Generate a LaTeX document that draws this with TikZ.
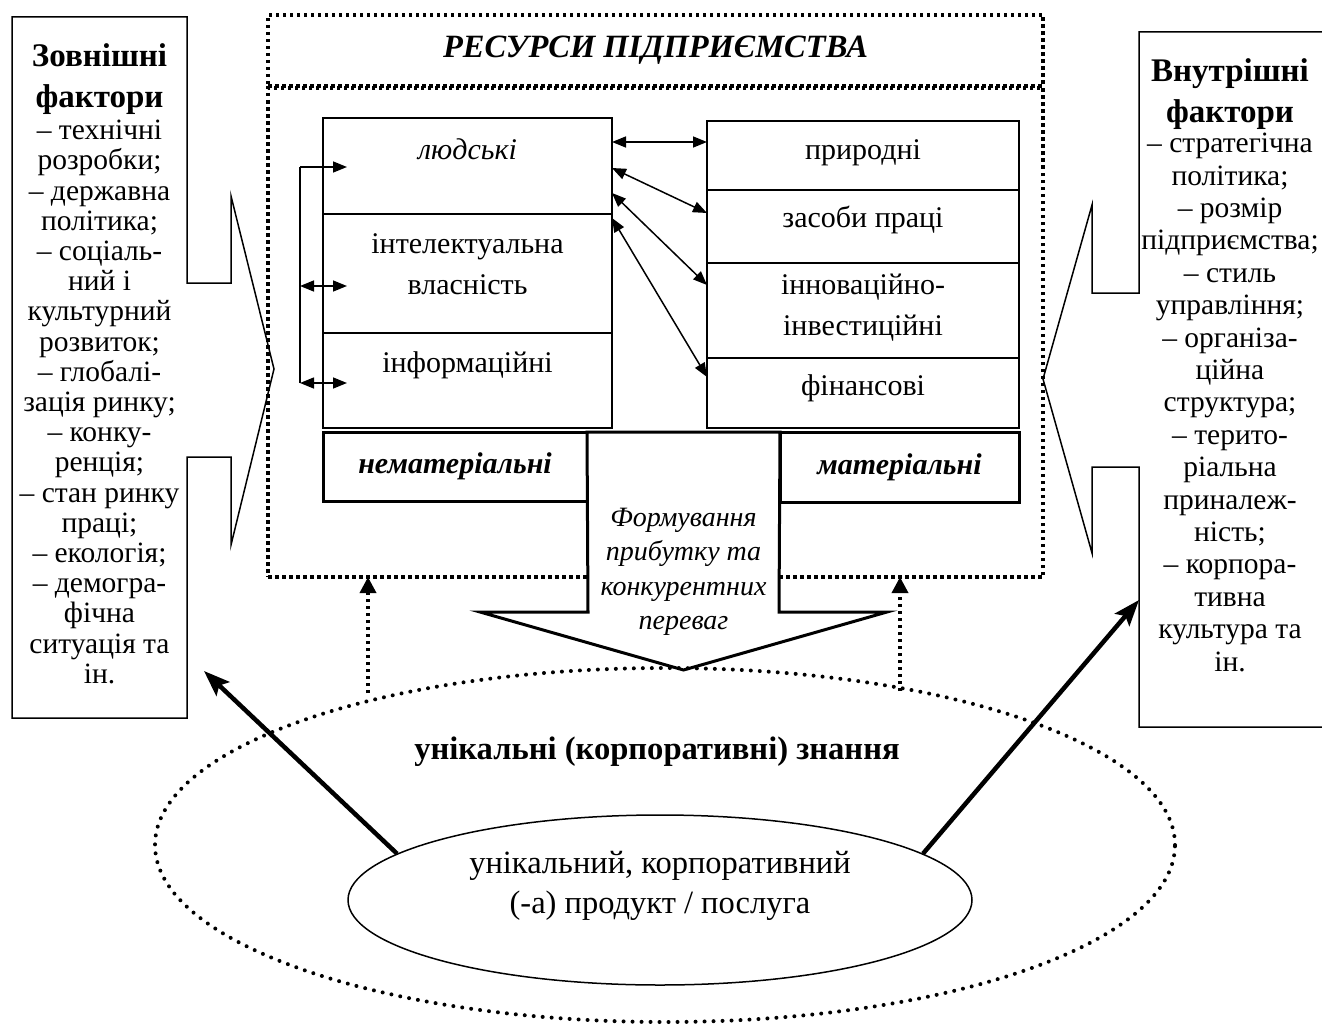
\documentclass[tikz,border=0pt]{standalone}
\usepackage{fontspec}
\setmainfont{Liberation Serif}
\usetikzlibrary{positioning,arrows.meta,shapes.geometric}

\begin{document}
\begin{tikzpicture}[
  x=1pt, y=-1pt,
  cellbox/.style={draw, line width=1.5pt, inner sep=0pt, outer sep=0pt,
    anchor=north, align=center, font=\fontsize{30}{41}\selectfont},
  catbox/.style={draw, line width=3pt, inner sep=0pt, outer sep=0pt,
    font=\fontsize{30}{36}\selectfont\bfseries\itshape},
  sqdot/.style={line width=3.5pt, dash pattern=on 3.5pt off 3.5pt},
  rounddot/.style={line width=4pt, dash pattern=on 0pt off 9pt, line cap=round},
  sidehead/.style={inner sep=0pt, anchor=north, align=center,
    font=\fontsize{33}{41}\selectfont\bfseries},
  sidetext/.style={inner sep=0pt, anchor=north, align=center},
  dbl/.style={{Triangle[length=14pt,width=11pt]}-{Triangle[length=14pt,width=11pt]},
    line width=1.5pt},
  bigarr/.style={-{Stealth[length=26pt,width=19pt,inset=5pt]}, line width=4.5pt},
  dotarr/.style={sqdot, -{Triangle[length=16pt,width=16pt]}}
]
\useasboundingbox (0,0) rectangle (1322,1030);

% resources frame
\node[draw, sqdot, minimum width=775, minimum height=71, inner sep=0pt, outer sep=0pt,
  font=\fontsize{32.5}{38}\selectfont\bfseries\itshape] (title) at (655.5,50.5) {РЕСУРСИ ПІДПРИЄМСТВА};
\node[draw, sqdot, minimum width=775, minimum height=489, inner sep=0pt, outer sep=0pt] (frame) at (655.5,332.5) {};

% intangible resources
\node[cellbox, minimum width=289, text height=42pt, text depth=54pt] (hum) at (467.5,118) {\textit{людські}};
\node[cellbox, minimum width=289, text height=80pt, text depth=39pt, below=0pt of hum] (intel) {інтелектуальна\\власність};
\node[cellbox, minimum width=289, text height=39pt, text depth=56pt, below=0pt of intel] (info) {інформаційні};

% tangible resources
\node[cellbox, minimum width=312, text height=38pt, text depth=31pt] (nat) at (863,121) {природні};
\node[cellbox, minimum width=312, text height=37pt, text depth=36pt, below=0pt of nat] (labour) {засоби праці};
\node[cellbox, minimum width=312, text height=72pt, text depth=23pt, below=0pt of labour] (innov) {інноваційно-\\інвестиційні};
\node[cellbox, minimum width=312, text height=37pt, text depth=33pt, below=0pt of innov] (fin) {фінансові};

\node[catbox, minimum width=264, minimum height=69] (nonmat) at (455,466.5) {нематеріальні};
\node[catbox, minimum width=239, minimum height=70] (mat) at (899.5,467) {матеріальні};

% block arrow
\draw[line width=3pt, fill=white] (nonmat.north east) -- (588,612) -- (480,612) -- (683.5,670)
  -- (887,612) -- (779,612) -- (mat.north west) -- cycle;
\node[font=\fontsize{28}{34.5}\selectfont\itshape, align=center] (gain) at (683.5,572)
  {Формування\\прибутку та\\конкурентних\\переваг};

% links inside the frame
\coordinate (bt) at (300,167);
\coordinate (bm) at (300,286);
\coordinate (bb) at (300,383);
\draw[line width=1.5pt] (bb) -- (bt);
\draw[line width=1.5pt, -{Triangle[length=14pt,width=11pt]}] (bt) -- ++(47,0);
\draw[dbl] (bm) -- ++(47,0);
\draw[dbl] (bb) -- ++(47,0);
\draw[dbl] ([yshift=-24pt]hum.north east) -- ([yshift=-21pt]nat.north west);
\draw[dbl] ([yshift=-50pt]hum.north east) -- ([yshift=-23pt]labour.north west);
\draw[dbl] ([yshift=-75pt]hum.north east) -- ([yshift=-22pt]innov.north west);
\draw[dbl] ([yshift=-4pt]intel.north east) -- ([yshift=-19pt]fin.north west);

% external factors
\draw[line width=1.5pt] (12,17) -- (187,17) -- (187,283) -- (231,283) -- (231,196) -- (274,369)
  -- (231,545) -- (231,457) -- (187,457) -- (187,718) -- (12,718) -- cycle;
\node[sidehead] (exthead) at (99.5,43) {Зовнішні\\фактори};
\node[sidetext, font=\fontsize{29.5}{30.2}\selectfont] (extlist) at (99.5,120)
  {– технічні\\розробки;\\– державна\\політика;\\– соціаль-\\ний і\\культурний\\розвиток;\\– глобалі-\\зація ринку;\\– конку-\\ренція;\\– стан ринку\\праці;\\– екологія;\\– демогра-\\фічна\\ситуація та\\ін.};

% internal factors
\draw[line width=1.5pt] (1330,32) -- (1139,32) -- (1139,293) -- (1092,293) -- (1092,205) -- (1043,379)
  -- (1092,553) -- (1092,467) -- (1139,467) -- (1139,727) -- (1330,727);
\node[sidehead] (inthead) at (1230,58) {Внутрішні\\фактори};
\node[sidetext, font=\fontsize{29.5}{32.4}\selectfont] (intlist) at (1230,133)
  {– стратегічна\\політика;\\– розмір\\підприємства;\\– стиль\\управління;\\– організа-\\ційна\\структура;\\– терито-\\ріальна\\приналеж-\\ність;\\– корпора-\\тивна\\культура та\\ін.};

% knowledge
\node[ellipse, draw, rounddot, minimum width=1020, minimum height=354, inner sep=0pt] (know) at (665,845) {};
\node[font=\fontsize{32.6}{38}\selectfont\bfseries] (knowlbl) at (657,752) {унікальні (корпоративні) знання};
\node[ellipse, draw, line width=1.5pt, minimum width=624, minimum height=170, inner sep=0pt] (prod) at (660,900) {};
\node[font=\fontsize{32.5}{40}\selectfont, align=center] (prodlbl) at (660,886)
  {унікальний, корпоративний\\(-а) продукт / послуга};

\coordinate (kl) at (368,693);
\coordinate (kr) at (900,691);
\draw[dotarr] (kl) -- (kl |- frame.south);
\draw[dotarr] (kr) -- (kr |- frame.south);

\coordinate (extin) at (204,671);
\coordinate (intin) at (1139,600);
\draw[bigarr] (prod.170) -- (extin);
\draw[bigarr] (prod.10) -- (intin);
\end{tikzpicture}
\end{document}
